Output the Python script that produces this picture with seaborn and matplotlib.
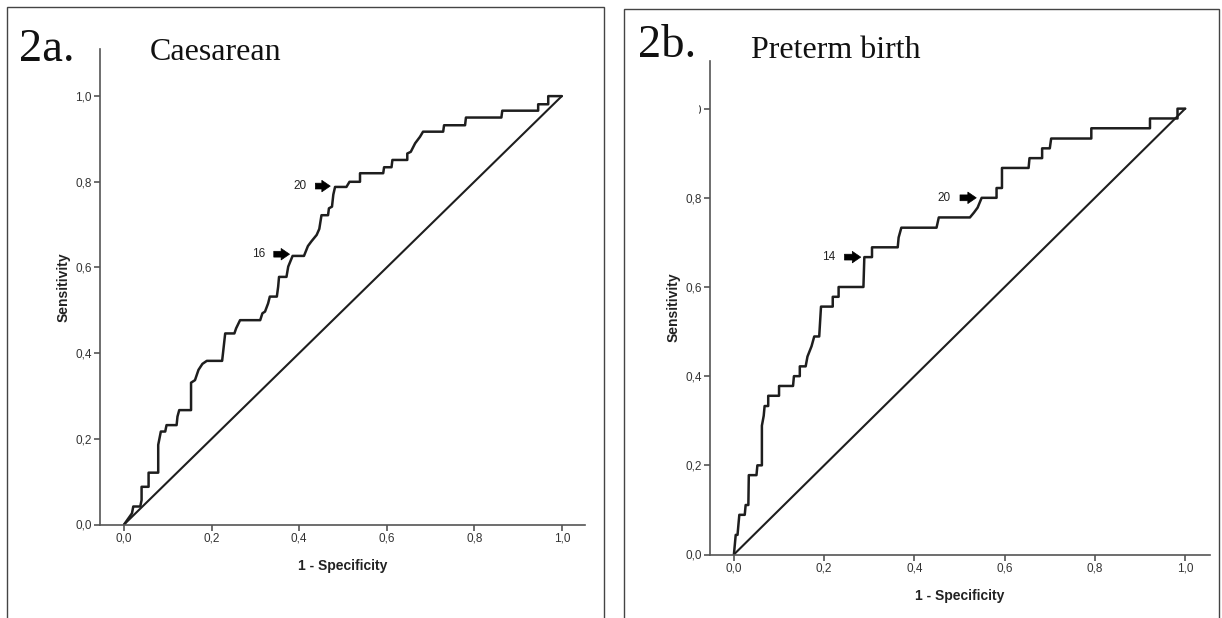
import matplotlib
matplotlib.use("Agg")
import matplotlib.pyplot as plt
from matplotlib.patches import Rectangle
import seaborn as sns
import pandas as pd

# ---------------- data ----------------
tick_values = [0.0, 0.2, 0.4, 0.6, 0.8, 1.0]
tick_labels = ["0,0", "0,2", "0,4", "0,6", "0,8", "1,0"]

# Panel 2a: Caesarean ROC curve vertices
caes_fpr = [0.0, 0.018, 0.021, 0.037, 0.040, 0.040, 0.056, 0.056, 0.078, 0.078,
            0.084, 0.094, 0.097, 0.120, 0.122, 0.126, 0.153, 0.153, 0.162, 0.170,
            0.179, 0.189, 0.224, 0.226, 0.231, 0.252, 0.256, 0.265, 0.311, 0.316,
            0.322, 0.329, 0.333, 0.349, 0.352, 0.354, 0.371, 0.375, 0.385, 0.411,
            0.420, 0.428, 0.440, 0.446, 0.451, 0.466, 0.468, 0.475, 0.478, 0.482,
            0.508, 0.515, 0.539, 0.539, 0.592, 0.594, 0.611, 0.613, 0.647, 0.647,
            0.655, 0.665, 0.676, 0.683, 0.729, 0.731, 0.779, 0.781, 0.862, 0.864,
            0.946, 0.946, 0.969, 0.969, 1.0]
caes_tpr = [0.0, 0.026, 0.042, 0.042, 0.057, 0.088, 0.088, 0.121, 0.121, 0.186,
            0.217, 0.217, 0.232, 0.232, 0.252, 0.267, 0.267, 0.331, 0.337, 0.361,
            0.375, 0.382, 0.382, 0.400, 0.446, 0.446, 0.458, 0.477, 0.477, 0.493,
            0.497, 0.516, 0.532, 0.532, 0.555, 0.578, 0.578, 0.602, 0.627, 0.627,
            0.650, 0.661, 0.676, 0.690, 0.722, 0.722, 0.738, 0.742, 0.770, 0.788,
            0.788, 0.800, 0.800, 0.820, 0.820, 0.834, 0.834, 0.851, 0.851, 0.866,
            0.870, 0.890, 0.905, 0.917, 0.917, 0.932, 0.932, 0.950, 0.950, 0.966,
            0.966, 0.981, 0.981, 1.0, 1.0]

# Panel 2b: Preterm birth ROC curve vertices
pre_fpr = [0.0, 0.002, 0.004, 0.008, 0.010, 0.012, 0.024, 0.026, 0.032, 0.033,
           0.050, 0.052, 0.062, 0.062, 0.066, 0.068, 0.076, 0.076, 0.100, 0.100,
           0.131, 0.133, 0.146, 0.146, 0.159, 0.163, 0.172, 0.178, 0.189, 0.193,
           0.219, 0.219, 0.232, 0.232, 0.287, 0.289, 0.306, 0.306, 0.363, 0.365,
           0.371, 0.449, 0.454, 0.523, 0.532, 0.540, 0.549, 0.582, 0.582, 0.594,
           0.594, 0.653, 0.655, 0.683, 0.683, 0.700, 0.703, 0.792, 0.792, 0.922,
           0.922, 0.983, 0.983, 1.0]
pre_tpr = [0.0, 0.022, 0.044, 0.044, 0.067, 0.089, 0.089, 0.111, 0.111, 0.178,
           0.178, 0.200, 0.200, 0.289, 0.311, 0.333, 0.333, 0.356, 0.356, 0.378,
           0.378, 0.400, 0.400, 0.422, 0.422, 0.444, 0.467, 0.489, 0.489, 0.556,
           0.556, 0.578, 0.578, 0.600, 0.600, 0.667, 0.667, 0.689, 0.689, 0.711,
           0.733, 0.733, 0.756, 0.756, 0.767, 0.778, 0.800, 0.800, 0.822, 0.822,
           0.867, 0.867, 0.889, 0.889, 0.911, 0.911, 0.933, 0.933, 0.956, 0.956,
           0.978, 0.978, 1.0, 1.0]

diag = [0.0, 1.0]

# cut-off annotations: (label, arrow tail x, arrow tip x, y)
caes_cuts = [("20", 0.437, 0.471, 0.790), ("16", 0.342, 0.378, 0.631)]
pre_cuts = [("20", 0.501, 0.537, 0.800), ("14", 0.245, 0.281, 0.667)]

# ---------------- style ----------------
sns.set_style("ticks")
plt.rcParams["font.family"] = ["Liberation Sans", "DejaVu Sans"]

fig = plt.figure(figsize=(12.22, 6.18), dpi=100)
fig.patch.set_facecolor("white")

LINE = "#1e1e1e"
AXC = "#555555"


def draw_panel(rect, xlim, ylim, fpr, tpr, cuts):
    ax = fig.add_axes(rect)
    df = pd.DataFrame({"fpr": fpr, "tpr": tpr})
    sns.lineplot(data=df, x="fpr", y="tpr", sort=False, estimator=None,
                 color=LINE, lw=1.8, ax=ax)
    sns.lineplot(x=diag, y=diag, sort=False, estimator=None,
                 color=LINE, lw=1.5, ax=ax)
    ax.set_xlim(*xlim)
    ax.set_ylim(*ylim)
    ax.set_xticks(tick_values)
    ax.set_xticklabels(tick_labels)
    ax.set_yticks(tick_values)
    ax.set_yticklabels(tick_labels)
    for s in ["top", "right"]:
        ax.spines[s].set_visible(False)
    for s in ["left", "bottom"]:
        ax.spines[s].set_color(AXC)
        ax.spines[s].set_linewidth(1.2)
    ax.tick_params(axis="both", colors=AXC, labelcolor="#333333",
                   labelsize=8.5, length=4, width=1.2, pad=2)
    ax.set_xlabel("1 - Specificity", fontsize=10, fontweight="bold",
                  color="#222222", labelpad=10)
    ax.set_ylabel("Sensitivity", fontsize=10, fontweight="bold",
                  color="#222222", labelpad=3)
    ax.set_facecolor("white")
    for lab, x0, x1, y in cuts:
        ax.annotate("", xy=(x1, y), xytext=(x0, y),
                    arrowprops=dict(arrowstyle="simple,head_length=0.55,head_width=0.75,tail_width=0.38",
                                    mutation_scale=11, fc="black", ec="black",
                                    lw=0.5, shrinkA=0, shrinkB=0))
        ax.text(x0 - 0.02, y, lab, ha="right", va="center", fontsize=8.5,
                color="#222222")
    return ax


ax_a = draw_panel([100 / 1222, 93.5 / 618, 485 / 1222, 475.5 / 618],
                  (-0.055, 1.053), (0, 1.11), caes_fpr, caes_tpr, caes_cuts)
ax_b = draw_panel([710 / 1222, 63.5 / 618, 500 / 1222, 494 / 618],
                  (-0.053, 1.055), (0, 1.108), pre_fpr, pre_tpr, pre_cuts)

# panel frames
fig.add_artist(Rectangle((7 / 1222, -0.02), (604 - 7) / 1222, (618 - 7) / 618 + 0.02,
                         transform=fig.transFigure, fill=False,
                         edgecolor="#444444", lw=1.0))
fig.add_artist(Rectangle((624 / 1222, -0.02), (1219 - 624) / 1222, (618 - 8.6) / 618 + 0.02,
                         transform=fig.transFigure, fill=False,
                         edgecolor="#444444", lw=1.0))

# the 1,0 label in panel b is mostly hidden behind a white box in the original
fig.add_artist(Rectangle((680 / 1222, (618 - 117) / 618), 19 / 1222, 17 / 618,
                         transform=fig.transFigure, facecolor="white",
                         edgecolor="none", zorder=10))

# titles
serif = ["Liberation Serif", "DejaVu Serif"]
fig.text(19 / 1222, (618 - 61) / 618, "2a.", fontsize=33.5, family=serif,
         ha="left", va="baseline", color="#111111")
fig.text(150 / 1222, (618 - 60) / 618, "Caesarean", fontsize=23, family=serif,
         ha="left", va="baseline", color="#111111")
fig.text(638 / 1222, (618 - 57) / 618, "2b.", fontsize=33.5, family=serif,
         ha="left", va="baseline", color="#111111")
fig.text(751 / 1222, (618 - 57.5) / 618, "Preterm birth", fontsize=23, family=serif,
         ha="left", va="baseline", color="#111111")

fig.savefig("out.png", dpi=100, facecolor="white")
